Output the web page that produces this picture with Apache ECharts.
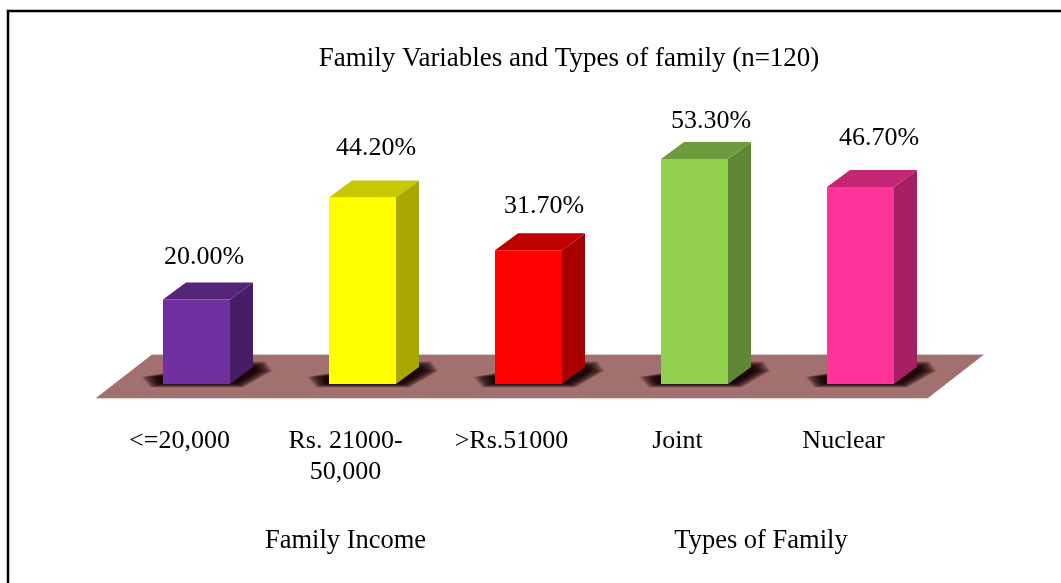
<!DOCTYPE html>
<html>
<head>
<meta charset="utf-8">
<style>html,body{margin:0;padding:0;background:#fff}#c{width:1061px;height:583px}</style>
<script src="https://cdn.jsdelivr.net/npm/echarts@6/dist/echarts.min.js"></script>
</head>
<body>
<div id="c"></div>
<script>
const categories = ['<=20,000', 'Rs. 21000-\n50,000', '>Rs.51000', 'Joint', 'Nuclear'];
const values = [20.0, 44.2, 31.7, 53.3, 46.7];
const groupLabels = ['Family Income', 'Types of Family'];
const chartTitle = 'Family Variables and Types of family (n=120)';
const faceColors = ['#7030A0', '#FFFF00', '#FF0000', '#92D050', '#FF3399'];
const sideColors = ['#461D66', '#A8A800', '#A80000', '#5F8735', '#A61F64'];
const topColors = ['#542478', '#C8C800', '#BF0000', '#6D9C3C', '#C22674'];
const labelLift = [42, 49, 44, 38, 49];
const labelShift = [7.5, 13.5, 15.5, 16.5, 18.5];

const FONT = '"Liberation Serif","Times New Roman",serif';
const DX = 23, DY = -17;
const BLUR_STEPS = 40;

function renderBar(params, api) {
  const i = api.value(0), v = api.value(1);
  const c = api.coord([i, v]), b = api.coord([i, 0]);
  const hw = api.size([1, 0])[0] * 0.2018;
  const l = c[0] - hw, r = c[0] + hw, t = c[1], y0 = b[1];
  const blur = [];
  for (let k = 0; k < BLUR_STEPS; k++) {
    const g = (BLUR_STEPS - k - 1) * 0.38;
    blur.push({ type: 'polygon', silent: true, z2: 1,
      shape: { points: [
        [l - 3 - g * 1.3, y0 - 7],
        [l - 1 - g * 0.8, y0 - 1 + g * 0.3],
        [r + 5 + g * 0.6, y0 - 1 + g * 0.3],
        [r + 25 + g * 1.2, y0 - 13],
        [r + 24 + g * 0.8, y0 - 16 - g * 0.45],
        [r, y0 - 16 - g * 0.45]
      ] },
      style: { fill: '#1a0808', opacity: 0.05 } });
  }
  return {
    type: 'group',
    children: blur.concat([
      { type: 'polygon', z2: 2, shape: { points: [[r, t], [r + DX, t + DY], [r + DX, y0 + DY], [r, y0]] },
        style: { fill: sideColors[i] } },
      { type: 'polygon', z2: 2, shape: { points: [[l, t], [r, t], [r + DX, t + DY], [l + DX, t + DY]] },
        style: { fill: topColors[i] } },
      { type: 'rect', z2: 3, shape: { x: l, y: t, width: r - l, height: y0 - t },
        style: { fill: faceColors[i] } },
      { type: 'text', z2: 4, x: c[0] + labelShift[i], y: t - labelLift[i],
        style: { text: v.toFixed(2) + '%', font: '26px ' + FONT, fill: '#000', align: 'center', verticalAlign: 'middle' } }
    ])
  };
}

const chart = echarts.init(document.getElementById('c'), null, { renderer: 'canvas' });
chart.setOption({
  animation: false,
  backgroundColor: '#fff',
  grid: { left: 113.5, width: 830, top: 130.8, height: 253.2, containLabel: false },
  xAxis: {
    type: 'category', data: categories,
    axisLine: { show: false }, axisTick: { show: false }, splitLine: { show: false },
    axisLabel: { color: '#000', fontFamily: FONT, fontSize: 26, lineHeight: 31, margin: 42, padding: [0, 34, 0, 0], interval: 0, align: 'center' }
  },
  yAxis: { type: 'value', min: 0, max: 60, show: false },
  graphic: [
    { type: 'polyline', z: 1, shape: { points: [[8, 583], [8, 11], [1061, 11]] }, style: { stroke: '#000', lineWidth: 2.5, fill: null } },
    { type: 'polygon', z: 0, shape: { points: [[96, 398], [928, 398], [984, 354.5], [152, 354.5]] }, style: { fill: '#A37070' } },
    { type: 'line', z: 0, shape: { x1: 152, y1: 354.5, x2: 984, y2: 354.5 }, style: { stroke: '#DCC8C8', lineWidth: 1 } },
    { type: 'line', z: 0, shape: { x1: 96, y1: 398.5, x2: 928, y2: 398.5 }, style: { stroke: '#E4D4D4', lineWidth: 1 } },
    { type: 'text', z: 5, x: 569, y: 59, style: { text: chartTitle, font: '27px ' + FONT, fill: '#000', align: 'center', verticalAlign: 'middle' } },
    { type: 'text', z: 5, x: 345.5, y: 541, style: { text: groupLabels[0], font: '26.5px ' + FONT, fill: '#000', align: 'center', verticalAlign: 'middle' } },
    { type: 'text', z: 5, x: 761, y: 541, style: { text: groupLabels[1], font: '26.5px ' + FONT, fill: '#000', align: 'center', verticalAlign: 'middle' } }
  ],
  series: [{
    type: 'custom', clip: false,
    coordinateSystem: 'cartesian2d',
    encode: { x: 0, y: 1 },
    data: values.map((v, i) => [i, v]),
    renderItem: renderBar
  }]
});
</script>
</body>
</html>
